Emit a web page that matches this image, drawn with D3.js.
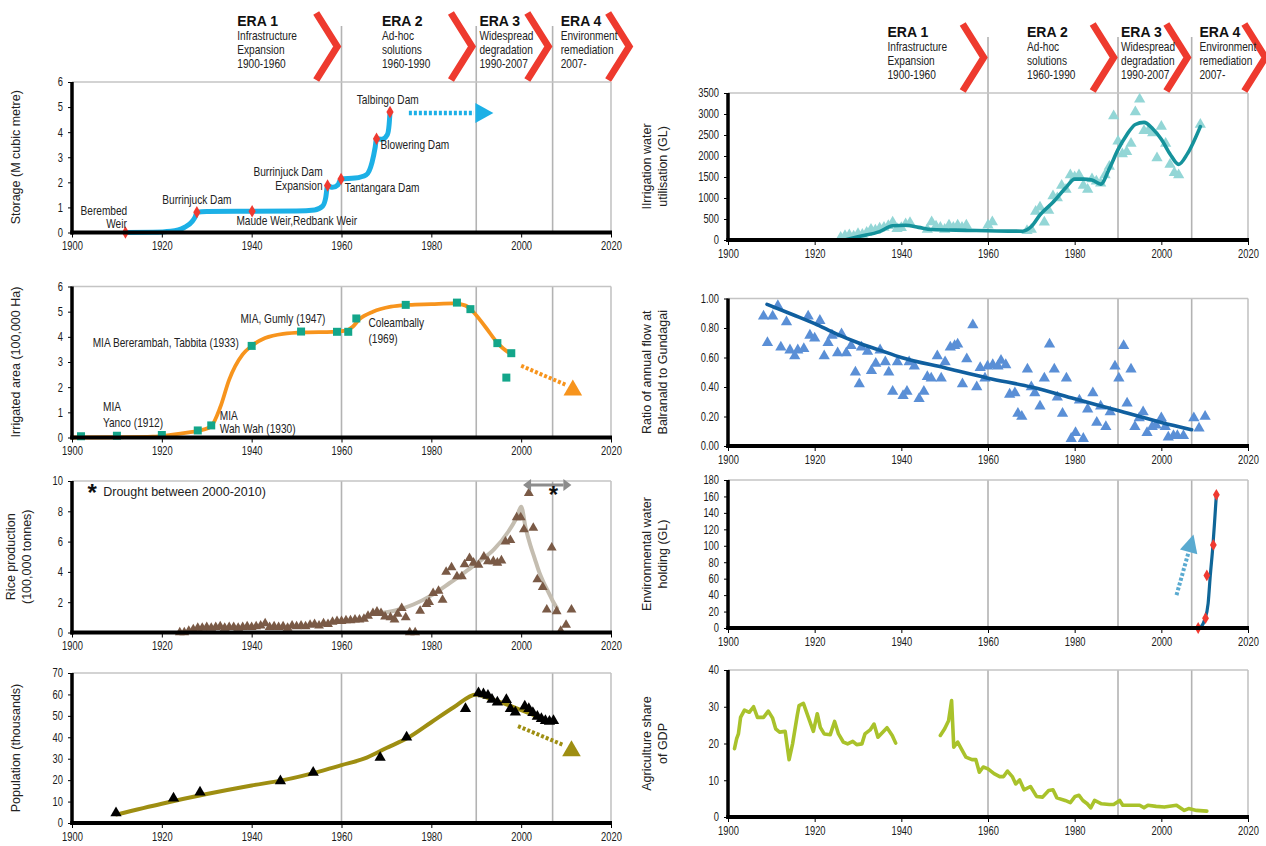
<!DOCTYPE html>
<html><head><meta charset="utf-8">
<script src="https://cdn.jsdelivr.net/npm/d3@7"></script>
<style>
body{margin:0;background:#fff;}
svg{display:block;}
</style></head><body>
<svg id="c" width="1266" height="846"></svg>
<script>
// ---------------- DATA ----------------
const xTickYears = [1900,1920,1940,1960,1980,2000,2020];
const eraYears = [1960,1990,2007];
const chevronYears = [1960,1990,2007,2025];
const eraTextYears = [1936.8,1969,1990.7,2008.8];
const eraTitles = ["ERA 1","ERA 2","ERA 3","ERA 4"];
const eraLine1 = ["Infrastructure","Ad-hoc","Widespread","Environment"];
const eraLine2 = ["Expansion","solutions","degradation","remediation"];
const eraLine3 = ["1900-1960","1960-1990","1990-2007","2007-"];

// Storage
const damYears = [1911.9,1927.8,1940.1,1956.9,1959.9,1967.8,1970.8];
const damStorage = [0,0.81,0.85,1.87,2.13,3.74,4.8];
const storageCurveYears = [1911.9,1918,1922,1925,1926.8,1927.5,1927.8,1930,1940.1,1950,1954,1955.8,1956.5,1956.9,1958,1959.2,1959.9,1963,1965.5,1966.8,1967.5,1967.8,1969,1970.2,1970.6,1970.8];
const storageCurveValues = [0,0.01,0.05,0.2,0.45,0.65,0.81,0.84,0.85,0.86,0.9,1.05,1.4,1.87,1.8,1.9,2.13,2.17,2.3,2.8,3.4,3.74,3.72,3.9,4.3,4.8];
const storageLabels = ["Berembed","Weir","Burrinjuck Dam","Maude Weir,Redbank  Weir","Burrinjuck Dam","Expansion","Tantangara Dam","Blowering Dam","Talbingo Dam"];
const storageLabelYears = [1907.1,1912.2,1927.8,1936.6,1948.1,1955.8,1960.7,1968.7,1970.3];
const storageLabelValues = [0.82,0.33,1.27,0.42,2.38,1.85,1.77,3.45,5.26];
const storageLabelAnchor = ["middle","end","middle","start","middle","end","start","start","middle"];
const storageArrow = [[1975,4.76],[1989.5,4.76]];

// Irrigated area
const areaYears = [1902,1910,1920,1928,1931,1940,1951,1959,1961.5,1963.3,1974.3,1985.7,1988.7,1994.7,1997.8,1996.7];
const areaValues = [0.05,0.07,0.1,0.28,0.48,3.64,4.21,4.2,4.2,4.73,5.27,5.36,5.1,3.75,3.35,2.38];
const areaCurveYears = [1900,1910,1918,1922,1926,1929,1931,1933,1935,1938,1940,1943,1947,1952,1958,1961,1962.5,1964,1967,1971,1975,1980,1985,1987.5,1989,1992,1995,1997.8];
const areaCurveValues = [0,0.01,0.03,0.1,0.2,0.3,0.45,1.2,2.3,3.3,3.64,3.95,4.12,4.18,4.2,4.25,4.4,4.7,5.0,5.2,5.27,5.3,5.33,5.25,5.05,4.4,3.7,3.3];
const areaLabels = ["MIA","Yanco (1912)","MIA","Wah Wah (1930)","MIA Bererambah, Tabbita (1933)","MIA, Gumly (1947)","Coleambally","(1969)"];
const areaLabelYears = [1906.9,1906.9,1932.9,1932.9,1904.6,1937.5,1966,1966];
const areaLabelValues = [1.17,0.54,0.83,0.30,3.72,4.70,4.54,3.88];
const areaArrow = [[2000,2.85],[2010,2.09]];
const areaArrowHead = [2011.5,1.88];

// Rice production
const riceYears = [1924,1925,1926,1927,1928,1929,1930,1931,1932,1933,1934,1935,1936,1937,1938,1939,1940,1941,1942,1943,1944,1945,1946,1947,1948,1949,1950,1951,1952,1953,1954,1955,1956,1957,1958,1959,1960,1961,1962,1963,1964,1965,
  1965.9,1967,1967.9,1968.8,1969.7,1970.9,1971.8,1972.5,1973.4,1974.3,1975.2,1976.4,1977.5,1978.9,1979.5,1980.4,1981.6,1982.5,1983.3,1984.5,1985.7,1986.8,1987.4,1988.5,1989.4,1990.5,1991.7,1992.6,1993.8,1994.7,1995.6,1996.5,1997.6,1999,1999.9,2000.6,2001.7,2002.7,2003.6,2004.8,2005.7,2006.8,2007.9,2008.8,2010,2011.2];
const riceValues = [0,0,0.1,0.2,0.3,0.3,0.35,0.3,0.35,0.4,0.3,0.35,0.35,0.3,0.35,0.4,0.35,0.4,0.45,0.6,0.35,0.4,0.35,0.4,0.3,0.45,0.4,0.45,0.4,0.5,0.55,0.45,0.6,0.55,0.7,0.75,0.75,0.8,0.8,0.85,0.85,0.9,
  1.1,1.27,1.38,1.27,1.05,1.0,0.85,1.23,1.6,1.0,0,0,1.43,1.87,2.0,2.6,2.75,2.15,4.0,4.3,3.7,3.7,4.5,4.9,4.6,4.46,5.0,4.7,4.7,4.6,4.75,6.0,6.1,7.6,7.6,6.8,9.2,6.9,3.5,3.0,1.5,5.6,1.4,0.1,0.5,1.5];
const riceTrendYears = [1968,1972,1976,1980,1984,1988,1991,1994,1997,1999,2000,2001,2002,2003,2004,2005,2006,2007,2008];
const riceTrendValues = [1.25,1.45,1.85,2.45,3.25,4.1,4.75,5.5,6.6,7.6,8.3,6.9,5.8,4.9,4.0,3.3,2.7,2.1,1.6];
const droughtArrow = [[2000.4,9.74],[2011.2,9.74]];
const droughtStar = [2007.2,9.0];
const droughtNote = "Drought between 2000-2010)";
const droughtNotePos = [1904.5,9.23];

// Population
const popYears = [1909.8,1922.6,1928.5,1946.4,1953.7,1968.6,1974.5,1987.6,1990.5,1991.6,1992.6,1993.5,1994.7,1996.7,1997.6,1998.7,2000.8,2001.7,2002.6,2003.6,2004.5,2005.4,2006.3,2007.2];
const popValues = [4.7,11.6,14.4,19.6,23.6,30.6,40,53.3,60.7,60.2,59.5,57.6,56.4,57.5,53.3,51.7,54.5,53.3,51.4,49.7,48.6,47.7,47.4,47.7];
const popTrendYears = [1910,1920,1930,1940,1947,1955,1960,1965,1970,1975,1980,1985,1990,1993,1996,1999,2002,2005];
const popTrendValues = [4,9,13.5,17.5,20,24,27,30,35,40,47,54,60,58,56,53.5,51,48.5];
const popArrow = [[1999.3,45.2],[2009.3,36.5]];
const popArrowHead = [2011.2,33.6];

// Irrigation water utilisation
const irrYears = [1926,1927,1928,1929,1930,1931,1932,1933,1934,1935,1936,1937,1938,1939,1940,1941,1942,1946,1947,1948,1949,1950,1951,1952,1953,1954,1955,1960,1961,1969,1970,1971,1972,1973,1974,1975,1976,1977,1978,1979,1980,1981,1982,1983,1984,1985,1986,1987,1988,1989,1990,1991,1992,1993,1994,1995,1996,1997,1998,1999,2000,2001,2002,2003,2004,2009];
const irrValues = [60,100,120,90,150,130,180,250,230,280,300,340,420,270,290,380,410,250,430,330,300,250,350,300,350,300,350,350,430,220,250,680,780,420,700,1050,1000,1300,1200,1550,1500,1550,1300,1200,1450,1400,1350,1550,1750,2950,2350,2050,2100,2300,3050,3350,2600,2600,2550,1950,2700,2300,1800,1600,1550,2750];
const irrTrendYears = [1927,1930,1935,1938,1941,1944,1947,1955,1962,1968,1970,1972,1975,1978,1980,1982,1984,1986,1988,1990,1992,1994,1996,1998,2000,2002,2004,2006,2009];
const irrTrendValues = [0,80,200,340,350,300,250,230,215,210,320,600,900,1250,1450,1450,1430,1330,1700,2150,2500,2750,2800,2650,2400,2050,1800,2050,2700];

// Flow ratio
const ratioYears = [1908.2,1909.1,1910.3,1911.5,1912.2,1913.5,1914.3,1915.4,1916.1,1917.5,1918.5,1918.9,1920,1921.2,1922.2,1923.1,1924,1925.3,1926.2,1927.3,1928.4,1929.4,1930.3,1930.8,1932.2,1933.1,1934.1,1935.1,1936.3,1937.1,1938,1939.1,1940.4,1941.3,1941.8,1943,1944.1,1945.2,1946,1946.9,1948.3,1949.2,1950.1,1951.3,1952.3,1953,1954.1,1955.1,1956.5,1957.4,1958.2,1959.3,1959.9,1961.1,1962.3,1963,1964.1,1965,1966.2,1966.9,1967.8,1969.1,1970,1970.8,1972,1973,1974.2,1975.3,1976,1977.2,1978.1,1979.2,1980.2,1981.1,1982,1983,1984.2,1985.1,1986,1987.2,1988.2,1989.3,1990.2,1991.3,1992.1,1993,1993.9,1994.9,1995.8,1996.7,1997.9,1998.8,2000,2000.9,2001.6,2002.8,2003.7,2005.1,2007.5,2008.7,2010.1];
const ratioValues = [0.88,0.70,0.88,0.95,0.67,0.84,0.65,0.61,0.65,0.66,0.88,0.75,0.73,0.85,0.61,0.70,0.75,0.63,0.76,0.63,0.68,0.50,0.42,0.67,0.64,0.51,0.56,0.65,0.57,0.50,0.37,0.57,0.34,0.37,0.57,0.54,0.32,0.37,0.47,0.46,0.61,0.46,0.57,0.67,0.68,0.69,0.42,0.59,0.82,0.40,0.53,0.46,0.54,0.55,0.54,0.58,0.55,0.35,0.36,0.22,0.20,0.52,0.40,0.36,0.27,0.46,0.69,0.52,0.33,0.22,0.46,0.05,0.09,0.31,0.05,0.25,0.36,0.16,0.27,0.13,0.23,0.54,0.46,0.68,0.29,0.52,0.13,0.19,0.23,0.09,0.13,0.14,0.19,0.13,0.06,0.07,0.07,0.07,0.19,0.12,0.20];
const ratioTrendYears = [1909,1915,1920,1925,1930,1935,1940,1950,1960,1970,1980,1990,2000,2007];
const ratioTrendValues = [0.96,0.89,0.83,0.76,0.70,0.65,0.60,0.53,0.46,0.40,0.32,0.24,0.16,0.11];

// Environmental water holding
const envYears = [2008.5,2010.2,2010.5,2012,2012.7];
const envValues = [0,12,64,101,162];
const envCurveYears = [2009,2010,2010.8,2011.3,2011.9,2012.3,2012.7];
const envCurveValues = [0,10,30,64,100,130,162];
const envArrow = [[2003.5,40],[2006.3,92.6]];

// Agriculture share of GDP
const gdpYearsA = [1901.5,1902,1902.4,1902.9,1903.8,1904.9,1905.9,1906.8,1908.2,1909.3,1910.3,1911,1911.9,1913.2,1914.1,1914.9,1916,1916.4,1917.4,1919.7,1920.6,1921.3,1922.2,1923.6,1924.6,1925.5,1926.6,1927.6,1928.8,1929.7,1930.9,1931.6,1932.8,1933.7,1934.6,1936.7,1937.9,1938.7];
const gdpValuesA = [18.6,21.3,22.6,27.1,29.1,28.5,30.0,27.1,27.1,28.8,26.9,24,23.1,23.3,15.6,19.9,27.8,30.3,30.9,23.3,28.1,24.4,22.6,22.4,26,22.6,20.4,19.9,20.6,19.7,19.9,22.6,23.7,25.3,21.7,24.3,22.2,20.1];
const gdpYearsB = [1949,1950,1950.9,1951.6,1952.1,1953,1954.9,1956.3,1957.2,1958,1958.9,1960,1961.4,1962.7,1963.6,1964.5,1965.6,1966.4,1967.3,1968.3,1969.8,1971.2,1972.6,1974,1975,1975.9,1977.8,1979,1980.1,1981,1981.9,1982.9,1983.7,1984.6,1986.2,1988,1989,1990.4,1991.1,1993.2,1995,1996,1996.9,1998.8,2000.7,2003.5,2005.3,2006.3,2008.1,2010.5];
const gdpValuesB = [22.2,24,26.2,31.7,19,20.4,16.3,15.6,15.6,12.2,13.6,13.1,11.8,11,11,12.5,11,9.0,10.1,7.4,8.3,5.6,5.4,7.2,7.4,5.2,4.5,3.9,5.6,5.9,4.5,3.6,2.5,4.5,3.6,3.4,3.4,4.5,3.2,3.2,3.2,2.5,3.2,2.9,2.7,3.2,1.8,2.3,1.8,1.6];

// ---------------- DRAWING ----------------
const REG = '"Liberation Sans",Arial,Helvetica,sans-serif';
const NS = 0.78; // horizontal squeeze to imitate a narrow face
const svg = d3.select('#c');
const zip = (a,b)=>a.map((v,i)=>[v,b[i]]);

function ntext(parent, px, py, txt, size, anchor, color){
  return parent.append('text').attr('transform',`translate(${px},${py}) scale(${NS},1)`)
    .attr('text-anchor',anchor || 'start').attr('dominant-baseline','middle')
    .attr('font-family',REG).attr('font-size',size).attr('fill',color || '#222').text(txt);
}

function panel(o){
  const x = d3.scaleLinear().domain([1900,2020]).range(o.left ? [72,611] : [728,1248]);
  const y = d3.scaleLinear().domain([0,o.yMax]).range([o.bottom,o.top]);
  const g = svg.append('g');
  const back = g.append('g'), data = g.append('g'), axes = g.append('g');
  const x0 = x.range()[0], x1 = x.range()[1];
  back.selectAll('line.era').data(eraYears).join('line')
    .attr('x1',d=>x(d)).attr('x2',d=>x(d))
    .attr('y1',o.header ? o.top-56 : o.top).attr('y2',o.bottom)
    .attr('stroke','#b3b3b3').attr('stroke-width',1.6);
  back.append('line').attr('x1',x0).attr('x2',x1).attr('y1',o.top).attr('y2',o.top)
    .attr('stroke','#c4c4c4').attr('stroke-width',1.6);
  back.append('line').attr('x1',x1).attr('x2',x1).attr('y1',o.top).attr('y2',o.bottom)
    .attr('stroke','#c4c4c4').attr('stroke-width',1.6);
  const ya = axes.append('g').attr('transform',`translate(${x0},0)`)
    .call(d3.axisLeft(y).tickValues(o.yTicks).tickSize(4).tickPadding(5).tickFormat(o.fmt || d3.format('d')));
  ya.select('.domain').remove();
  const xa = axes.append('g').attr('transform',`translate(0,${o.bottom})`)
    .call(d3.axisBottom(x).tickValues(xTickYears).tickSize(5).tickPadding(4).tickFormat(d3.format('d')));
  xa.select('.domain').remove();
  axes.selectAll('.tick line').attr('stroke','#000').attr('stroke-width',1);
  axes.selectAll('.tick text').attr('font-family',REG).attr('font-size',12).attr('fill','#1a1a1a')
    .each(function(){ const t=d3.select(this); const xx=+t.attr('x')||0; t.attr('x',xx/NS).attr('transform',`scale(${NS},1)`); });
  axes.append('line').attr('x1',x0).attr('x2',x0).attr('y1',o.top).attr('y2',o.bottom+2)
    .attr('stroke','#000').attr('stroke-width',3.5);
  axes.append('line').attr('x1',x0-1.75).attr('x2',x1+1).attr('y1',o.bottom).attr('y2',o.bottom)
    .attr('stroke','#000').attr('stroke-width',4);
  const cy = (o.top+o.bottom)/2;
  const tg = axes.append('g').attr('font-family',REG).attr('font-size',12.5).attr('fill','#222');
  o.title.forEach((t,i)=>{
    const xx = o.title.length===1 ? (o.left ? 17 : 648) : (o.left ? 12 : 648) + i*15.5;
    tg.append('text').attr('transform',`translate(${xx},${cy}) rotate(-90)`)
      .attr('text-anchor','middle').attr('dominant-baseline','middle').text(t);
  });
  if (o.header){
    const hg = back.append('g');
    chevronYears.forEach(cyr=>{
      const tip = x(cyr), top = o.top-71, bot = o.top, mid = (top+bot)/2;
      const cx = tip-4.3;
      hg.append('path').attr('d',`M${cx-21},${top+2}L${cx},${mid}L${cx-21},${bot-2}`)
        .attr('fill','none').attr('stroke','#ee3a2e').attr('stroke-width',7)
        .attr('stroke-linejoin','miter').attr('stroke-linecap','butt');
    });
    eraTextYears.forEach((ey,i)=>{
      const tx2 = x(ey);
      hg.append('text').attr('x',tx2).attr('y',o.top-60).attr('dominant-baseline','middle')
        .attr('font-family',REG).attr('font-weight','bold').attr('font-size',14).attr('fill','#111').text(eraTitles[i]);
      [eraLine1[i],eraLine2[i],eraLine3[i]].forEach((s,j)=>{
        ntext(hg, tx2, o.top-45+j*14, s, 13, 'start', '#222');
      });
    });
  }
  return {x,y,data};
}

function curve(p, xs, ys, color, w, c){
  p.data.append('path').datum(zip(xs,ys))
    .attr('d', d3.line().x(d=>p.x(d[0])).y(d=>p.y(d[1])).curve(c || d3.curveMonotoneX))
    .attr('fill','none').attr('stroke',color).attr('stroke-width',w)
    .attr('stroke-linejoin','round').attr('stroke-linecap','round');
}
function symbols(p, xs, ys, type, size, color){
  p.data.selectAll(null).data(zip(xs,ys)).join('path')
    .attr('transform',d=>`translate(${p.x(d[0])},${p.y(d[1])})`)
    .attr('d', d3.symbol(type, size)).attr('fill',color);
}
function dotted(p, seg, color, w){
  p.data.append('line').attr('x1',p.x(seg[0][0])).attr('y1',p.y(seg[0][1]))
    .attr('x2',p.x(seg[1][0])).attr('y2',p.y(seg[1][1]))
    .attr('stroke',color).attr('stroke-width',w).attr('stroke-dasharray','3,2');
}
function head(p, from, to, color, len, half){
  const x1=p.x(from[0]), y1=p.y(from[1]), x2=p.x(to[0]), y2=p.y(to[1]);
  const L = Math.hypot(x2-x1,y2-y1), ux=(x2-x1)/L, uy=(y2-y1)/L;
  const ax = x2+ux*len, ay = y2+uy*len;
  p.data.append('path').attr('d',`M${ax},${ay}L${x2-uy*half},${y2+ux*half}L${x2+uy*half},${y2-ux*half}Z`).attr('fill',color);
}
function labels(p, txts, xs, ys, anchors, size, color){
  txts.forEach((t,i)=> ntext(p.data, p.x(xs[i]), p.y(ys[i]), t, size, anchors ? anchors[i] : 'start', color));
}

// ---- Left 1: Storage
const p1 = panel({left:true, top:82, bottom:232.5, yMax:6, yTicks:d3.range(0,7), title:["Storage (M cubic metre)"], header:true});
curve(p1, storageCurveYears, storageCurveValues, '#1cb0e6', 5);
symbols(p1, damYears, damStorage, d3.symbolDiamond, 45, '#f03a30');
labels(p1, storageLabels, storageLabelYears, storageLabelValues, storageLabelAnchor, 13, '#222');
dotted(p1, storageArrow, '#1cb0e6', 4.5);
head(p1, storageArrow[0], [storageArrow[1][0]+0.3, storageArrow[1][1]], '#1cb0e6', 18, 10);

// ---- Left 2: Irrigated area
const p2 = panel({left:true, top:286.5, bottom:437.5, yMax:6, yTicks:d3.range(0,7), title:["Irrigated area (100,000 Ha)"]});
curve(p2, areaCurveYears, areaCurveValues, '#f7941d', 3.8);
symbols(p2, areaYears, areaValues, d3.symbolSquare, 64, '#13a68a');
labels(p2, areaLabels, areaLabelYears, areaLabelValues, null, 13, '#222');
dotted(p2, areaArrow, '#f7941d', 4);
symbols(p2, [areaArrowHead[0]], [areaArrowHead[1]], d3.symbolTriangle, 150, '#f7941d');

// ---- Left 3: Rice
const p3 = panel({left:true, top:481, bottom:632.5, yMax:10, yTicks:d3.range(0,11,2), title:["Rice production","(100,000 tonnes)"]});
curve(p3, riceTrendYears, riceTrendValues, '#c4bdb0', 4);
symbols(p3, riceYears, riceValues, d3.symbolTriangle, 42, '#7a5a46');
{
  const a = droughtArrow;
  p3.data.append('line').attr('x1',p3.x(a[0][0])+8).attr('x2',p3.x(a[1][0])-8)
    .attr('y1',p3.y(a[0][1])).attr('y2',p3.y(a[1][1])).attr('stroke','#8c8c8c').attr('stroke-width',3);
  head(p3, [a[1][0]-1,a[1][1]], [a[0][0]+1.8,a[0][1]], '#8c8c8c', 8, 6);
  head(p3, [a[0][0]+1,a[0][1]], [a[1][0]-1.8,a[1][1]], '#8c8c8c', 8, 6);
  p3.data.append('text').attr('x',p3.x(droughtStar[0])).attr('y',p3.y(droughtStar[1])+7)
    .attr('text-anchor','middle').attr('font-family',REG).attr('font-weight','bold').attr('font-size',24).attr('fill','#111').text('*');
  p3.data.append('text').attr('x',p3.x(droughtNotePos[0])).attr('y',p3.y(droughtNotePos[1])+8)
    .attr('text-anchor','middle').attr('font-family',REG).attr('font-weight','bold').attr('font-size',24).attr('fill','#111').text('*');
  p3.data.append('text').attr('x',p3.x(droughtNotePos[0])+11).attr('y',p3.y(droughtNotePos[1]))
    .attr('dominant-baseline','middle').attr('font-family',REG).attr('font-size',12.5).attr('fill','#222').text(droughtNote);
}

// ---- Left 4: Population
const p4 = panel({left:true, top:673, bottom:823, yMax:70, yTicks:d3.range(0,71,10), title:["Population (thousands)"]});
curve(p4, popTrendYears, popTrendValues, '#9e8e12', 4);
symbols(p4, popYears, popValues, d3.symbolTriangle, 55, '#000');
dotted(p4, popArrow, '#9e8e12', 4);
symbols(p4, [popArrowHead[0]], [popArrowHead[1]], d3.symbolTriangle, 150, '#9e8e12');

// ---- Right 1: Irrigation water
const r1 = panel({left:false, top:93, bottom:240, yMax:3500, yTicks:d3.range(0,3501,500), title:["IIrrigation water","utilisation (GL)"], header:true});
symbols(r1, irrYears, irrValues, d3.symbolTriangle, 55, '#93d6d6');
curve(r1, irrTrendYears, irrTrendValues, '#15929b', 3.6);

// ---- Right 2: Ratio
const r2 = panel({left:false, top:298.5, bottom:446, yMax:1, yTicks:d3.range(0,1.01,0.2), fmt:d3.format('.2f'), title:["Ratio of annual flow at","Balranald to Gundagai"]});
symbols(r2, ratioYears, ratioValues, d3.symbolTriangle, 55, '#5a8fd6');
curve(r2, ratioTrendYears, ratioTrendValues, '#105f9f', 3.6);

// ---- Right 3: Environmental water
const r3 = panel({left:false, top:480, bottom:628, yMax:180, yTicks:d3.range(0,181,20), title:["Environmental water","holding (GL)"]});
curve(r3, envCurveYears, envCurveValues, '#0f6698', 3.2);
symbols(r3, envYears, envValues, d3.symbolDiamond, 40, '#f03a30');
dotted(r3, envArrow, '#5aaad0', 4);
head(r3, envArrow[0], envArrow[1], '#5aaad0', 18, 9);

// ---- Right 4: GDP
const r4 = panel({left:false, top:670, bottom:817, yMax:40, yTicks:d3.range(0,41,10), title:["Agriculture share","of GDP"]});
curve(r4, gdpYearsA, gdpValuesA, '#a9c22b', 3.6, d3.curveLinear);
curve(r4, gdpYearsB, gdpValuesB, '#a9c22b', 3.6, d3.curveLinear);
</script>
</body></html>
